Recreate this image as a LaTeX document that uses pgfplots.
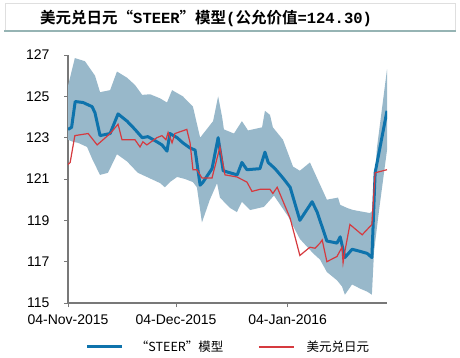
\documentclass[border=0pt]{standalone}
\usepackage{pgfplots}
\pgfplotsset{compat=1.18}
\usepackage{fontspec}
\setmainfont{Liberation Sans}
\newfontfamily\cjk{Noto Sans CJK SC}
\newfontfamily\cjkb{Noto Sans CJK SC Bold}
\newfontfamily\monob{Liberation Mono}
\definecolor{bandc}{RGB}{152,184,202}
\definecolor{bluel}{RGB}{14,115,172}
\definecolor{redl}{RGB}{214,58,63}
\definecolor{axc}{RGB}{120,120,120}
\definecolor{titleline}{RGB}{150,180,180}
\begin{document}
\begin{tikzpicture}[x=1pt,y=1pt]
\useasboundingbox (0,0) rectangle (460,357);
\fill[white] (0,0) rectangle (460,357);
\draw[gray!25, line width=0.8pt] (5,326) -- (5,354) -- (455,354) -- (455,326);
\draw[titleline, line width=1.5pt] (4,326) -- (456,326);
\node[anchor=base west, inner sep=0, font=\cjkb\fontsize{15.5}{18}\selectfont] at (40,333) {美元兑日元\hbox to 15.5pt{\hss“}{\monob\bfseries STEER}\hbox to 15.5pt{”\hss}模型{\monob\bfseries(}公允价值{\monob\bfseries=124.30)}};
\begin{axis}[
  at={(68pt,54pt)}, anchor=south west, scale only axis,
  width=319pt, height=248pt,
  xmin=0, xmax=88.6, ymin=115, ymax=127,
  axis x line*=bottom, axis y line*=left,
  axis line style={axc, line width=1.4pt},
  ytick={115,117,...,127},
  xtick={0,30,61},
  xticklabels={04-Nov-2015,04-Dec-2015,04-Jan-2016},
  tick style={axc, line width=1pt},
  major tick length=4pt,
  tick align=outside,
  /pgf/number format/assume math mode=true,
  ticklabel style={font=\fontsize{14}{16}\selectfont, text=black},
  yticklabel style={xshift=-11pt},
  xticklabel style={yshift=-4pt},
  legend columns=2,
  legend style={at={(0.5,-0.177)}, anchor=center, draw=none, fill=none,
    nodes={inner sep=0pt, font=\cjk\fontsize{12.5}{14}\selectfont},
    /tikz/every odd column/.append style={column sep=12pt},
    /tikz/every even column/.append style={column sep=35pt}},
  legend image code/.code={\draw[#1] (0pt,0pt) -- (35pt,0pt);},
]
\addplot[fill=bandc, draw=none, forget plot] coordinates {
(0,125.5) (1.9,126.85) (4.7,126.7) (7.5,126.0) (8.9,125.2) (11.7,125.3)
(13.6,126.2) (16.4,125.9) (18.6,125.55) (20.6,125.07) (22.8,125.1)
(25.6,124.9) (27.5,124.7) (28.9,125.3) (31.9,125.0) (34.7,124.5)
(36.7,123.0) (40.3,123.8) (41.7,125.0) (42.8,124.0) (43.3,123.4)
(46.1,123.2) (48.3,123.8) (50.0,123.35) (53.9,123.5) (54.7,124.3)
(56.1,124.1) (56.9,123.5) (59.7,122.9) (62.5,121.6) (64.4,121.4)
(67.2,121.8) (71.9,120.0) (75.0,120.1) (75.6,119.75) (77.5,119.6)
(79.2,119.5) (83.9,119.35) (84.7,119.5) (85.8,122.5) (88.6,126.3)
(88.6,122.4) (86.4,119.5) (85.0,117.5) (84.4,115.4) (83.1,115.55)
(81.1,115.7) (78.9,115.9) (76.9,115.4) (76.1,115.8) (74.7,116.1)
(71.9,116.5) (70.0,117.1) (68.1,117.4) (64.4,118.1) (61.1,119.2)
(57.2,120.2) (54.4,119.65) (50.6,119.5) (48.3,119.9) (46.9,119.4)
(45.0,119.6) (42.2,120.1) (41.4,120.8) (39.4,120.0) (37.2,118.9)
(35.8,120.6) (34.7,120.85) (32.5,121.0) (30.3,121.1) (28.3,120.85)
(26.9,120.6) (25.6,120.8) (21.9,121.1) (19.4,121.3) (16.4,121.85)
(13.6,122.2) (11.1,121.3) (8.9,121.2) (6.9,121.9) (5.3,122.55)
(2.8,122.75) (1.4,122.8) (0,122.9)
} -- cycle;
\addplot[bluel, line width=3pt, line join=round] coordinates {
(0,123.4) (1.0,123.5) (2.0,124.75) (4.2,124.7) (6.7,124.5) (7.5,124.2)
(8.9,123.1) (11.7,123.2) (13.9,124.15) (16.4,123.8) (18.6,123.4)
(20.6,123.0) (22.2,123.05) (24.7,122.8) (26.1,122.65) (27.5,122.35)
(28.3,123.2) (30.3,123.0) (31.9,122.75) (33.9,122.5) (35.3,122.4)
(36.7,120.7) (37.5,120.85) (40.0,121.5) (41.7,123.0) (43.1,121.4)
(45.0,121.3) (47.0,121.2) (48.3,121.8) (49.7,121.45) (53.3,121.5)
(54.7,122.3) (55.6,121.8) (57.5,121.5) (59.7,121.05) (61.7,120.6)
(64.4,119.0) (67.8,119.9) (69.2,119.4) (71.9,118.0) (74.7,117.9)
(75.6,118.2) (76.9,117.2) (78.9,117.6) (81.1,117.5) (83.1,117.4)
(84.4,117.2) (85.3,121.3) (88.6,124.3)
};
\addlegendentry{“STEER”模型}
\addplot[redl, line width=1.2pt] coordinates {
(0,121.7) (0.6,121.8) (1.9,123.1) (5.6,123.2) (8.1,122.65) (11.7,123.2)
(13.9,123.65) (15.0,122.9) (18.6,122.9) (20.0,122.55) (20.8,122.8)
(21.9,122.65) (24.7,123.0) (26.1,123.1) (27.2,122.9) (27.8,123.25)
(28.9,122.75) (29.7,123.2) (33.0,123.4) (33.9,122.75) (34.7,121.45)
(35.8,121.45) (37.2,121.05) (40.0,121.05) (42.2,122.55) (43.6,121.2)
(46.9,121.1) (49.7,120.85) (51.1,120.4) (53.3,120.5) (56.1,120.5)
(56.9,120.3) (58.1,120.6) (61.7,119.1) (64.4,117.3) (67.2,117.7)
(68.6,117.65) (70.0,117.9) (70.6,118.05) (71.9,117.0) (74.7,117.25)
(76.1,117.7) (76.4,116.95) (76.9,117.5) (78.3,118.8) (81.7,118.3)
(84.4,118.8) (85.3,121.3) (88.6,121.45)
};
\addlegendentry{美元兑日元}
\end{axis}
\end{tikzpicture}
\end{document}
